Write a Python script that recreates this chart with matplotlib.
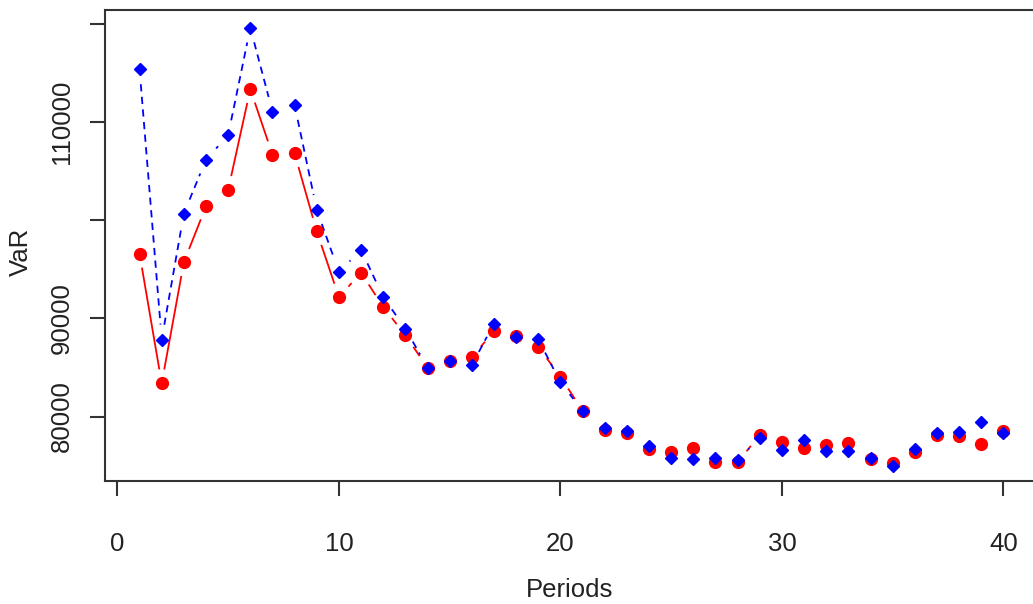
import numpy as np
import matplotlib
matplotlib.use("Agg")
import matplotlib.pyplot as plt

periods = list(range(1, 41))
var_red = [96600, 83380, 95740, 101440, 103110, 113380, 106700, 106830, 98870, 92180,
           94670, 91170, 88290, 84980, 85680, 86020, 88730, 88190, 87100, 84050,
           80590, 78600, 78290, 76660, 76420, 76770, 75370, 75340, 78120, 77440,
           76830, 77100, 77270, 75680, 75240, 76360, 78120, 78020, 77200, 78560]
var_blue = [115410, 87850, 100700, 106190, 108700, 119640, 111100, 111750, 101080, 94730,
            97000, 92180, 88970, 84980, 85680, 85240, 89480, 88090, 87880, 83480,
            80590, 78800, 78530, 76970, 75810, 75680, 75730, 75580, 77840, 76590,
            77610, 76520, 76520, 75810, 75000, 76660, 78350, 78420, 79410, 78290]
xticks = [0, 10, 20, 30, 40]
yticks = [80000, 90000, 100000, 110000, 120000]
ytick_labels = ["80000", "90000", "", "110000", ""]

plt.rcParams['font.family'] = ['Liberation Sans', 'DejaVu Sans']

W, H = 1033, 604
fig = plt.figure(figsize=(W / 100, H / 100), dpi=100)
left, right, top, bottom = 105, 1038, 10, 481
ax = fig.add_axes([left / W, (H - bottom) / H, (right - left) / W, (bottom - top) / H])

ax.set_xlim(-0.56, 41.56)
ax.set_ylim(73423, 121451)

def gapped(xs, ys, color, ls, gap=15):
    fig.canvas.draw()
    pts = ax.transData.transform(np.column_stack([xs, ys]))
    inv = ax.transData.inverted()
    for i in range(len(pts) - 1):
        p0, p1 = pts[i], pts[i + 1]
        d = p1 - p0
        L = np.hypot(*d)
        if L <= 2 * gap:
            continue
        u = d / L
        a = inv.transform(p0 + u * gap)
        b = inv.transform(p1 - u * gap)
        ax.plot([a[0], b[0]], [a[1], b[1]], color=color, ls=ls, lw=1.3,
                dashes=(4, 3) if ls == '--' else (None, None))

gapped(periods, var_red, '#FF0000', '-')
gapped(periods, var_blue, '#0000FF', '--')
ax.plot(periods, var_red, 'o', color='#FF0000', markersize=8.5, ls='none')
ax.plot(periods, var_blue, 'D', color='#0000FF', markersize=6.5, ls='none')

ax.set_xlim(-0.56, 41.56)
ax.set_ylim(73423, 121451)
ax.set_xticks(xticks)
ax.set_xticklabels([str(t) for t in xticks])
ax.set_yticks(yticks)
ax.set_yticklabels(ytick_labels, rotation=90, va='center')
for s in ax.spines.values():
    s.set_color('#333333')
    s.set_linewidth(1.5)
ax.tick_params(axis='both', length=10.5, width=1.5, color='#333333', labelsize=18.5,
               labelcolor='#222222')
ax.tick_params(axis='x', pad=26)
ax.tick_params(axis='y', pad=12)
fig.text(570 / W, 1 - 590 / H, 'Periods', fontsize=18.5, color='#222222',
         ha='center', va='center')
fig.text(21 / W, 1 - 252 / H, 'VaR', fontsize=18.5, color='#222222',
         ha='center', va='center', rotation=90)

fig.savefig('out.png', dpi=100)
